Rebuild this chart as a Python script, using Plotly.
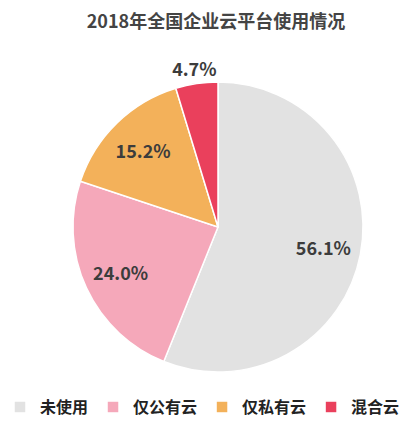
import plotly.graph_objects as go

labels = ["未使用", "仅公有云", "仅私有云", "混合云"]
values = [56.1, 24.0, 15.2, 4.7]
colors = ["#E2E2E2", "#F5A8BA", "#F3B15A", "#EA405C"]
title = "2018年全国企业云平台使用情况"

cx, cy, R = 218, 227, 145
W, H = 416, 426

def dom(r):
    return dict(x=[(cx - r) / W, (cx + r) / W], y=[1 - (cy + r) / H, 1 - (cy - r) / H])

font_lbl = dict(family="Noto Sans CJK SC", size=18, color="#3c3c3c", weight="bold")

# main pie (colors, legend)
fig = go.Figure(go.Pie(
    labels=labels, values=values, sort=False, direction="clockwise", rotation=0,
    marker=dict(colors=colors, line=dict(color="white", width=1.5)),
    textinfo="none", domain=dom(R), hoverinfo="label+percent",
))

# transparent ring carrying the inside labels (placed at ~0.74 R)
inside_text = ["%.1f%%" % v if v > 10 else "" for v in values]
fig.add_trace(go.Pie(
    labels=labels, values=values, sort=False, direction="clockwise", rotation=0,
    marker=dict(colors=["rgba(0,0,0,0)"] * 4, line=dict(width=0)),
    text=inside_text, textinfo="text", textposition="inside",
    insidetextorientation="horizontal", textfont=font_lbl,
    hole=0.48, domain=dom(R), showlegend=False, hoverinfo="skip",
))

# transparent outer ring carrying the small-slice label (outside the pie)
outer_text = ["%.1f%%" % v if v <= 10 else "" for v in values]
R2 = 1.26 * R
fig.add_trace(go.Pie(
    labels=labels, values=values, sort=False, direction="clockwise", rotation=0,
    marker=dict(colors=["rgba(0,0,0,0)"] * 4, line=dict(width=0)),
    text=outer_text, textinfo="text", textposition="inside",
    insidetextorientation="horizontal", textfont=font_lbl,
    hole=0.76, domain=dom(R2), showlegend=False, hoverinfo="skip",
))

fig.update_layout(
    width=W, height=H,
    margin=dict(l=0, r=0, t=0, b=0),
    paper_bgcolor="white",
    uniformtext=dict(minsize=18, mode="show"),
    title=dict(text=title, x=216 / W, xanchor="center", y=1 - 22 / H, yanchor="middle",
               font=dict(family="Noto Sans CJK SC", size=18, color="#444444", weight="bold")),
    legend=dict(orientation="h", x=200 / W, xanchor="center", y=1 - 407 / H, yanchor="middle",
                font=dict(family="Noto Sans CJK SC", size=16, color="#222222", weight="bold"),
                itemwidth=30, traceorder="normal"),
    showlegend=True,
)

fig.write_html("out.html")
